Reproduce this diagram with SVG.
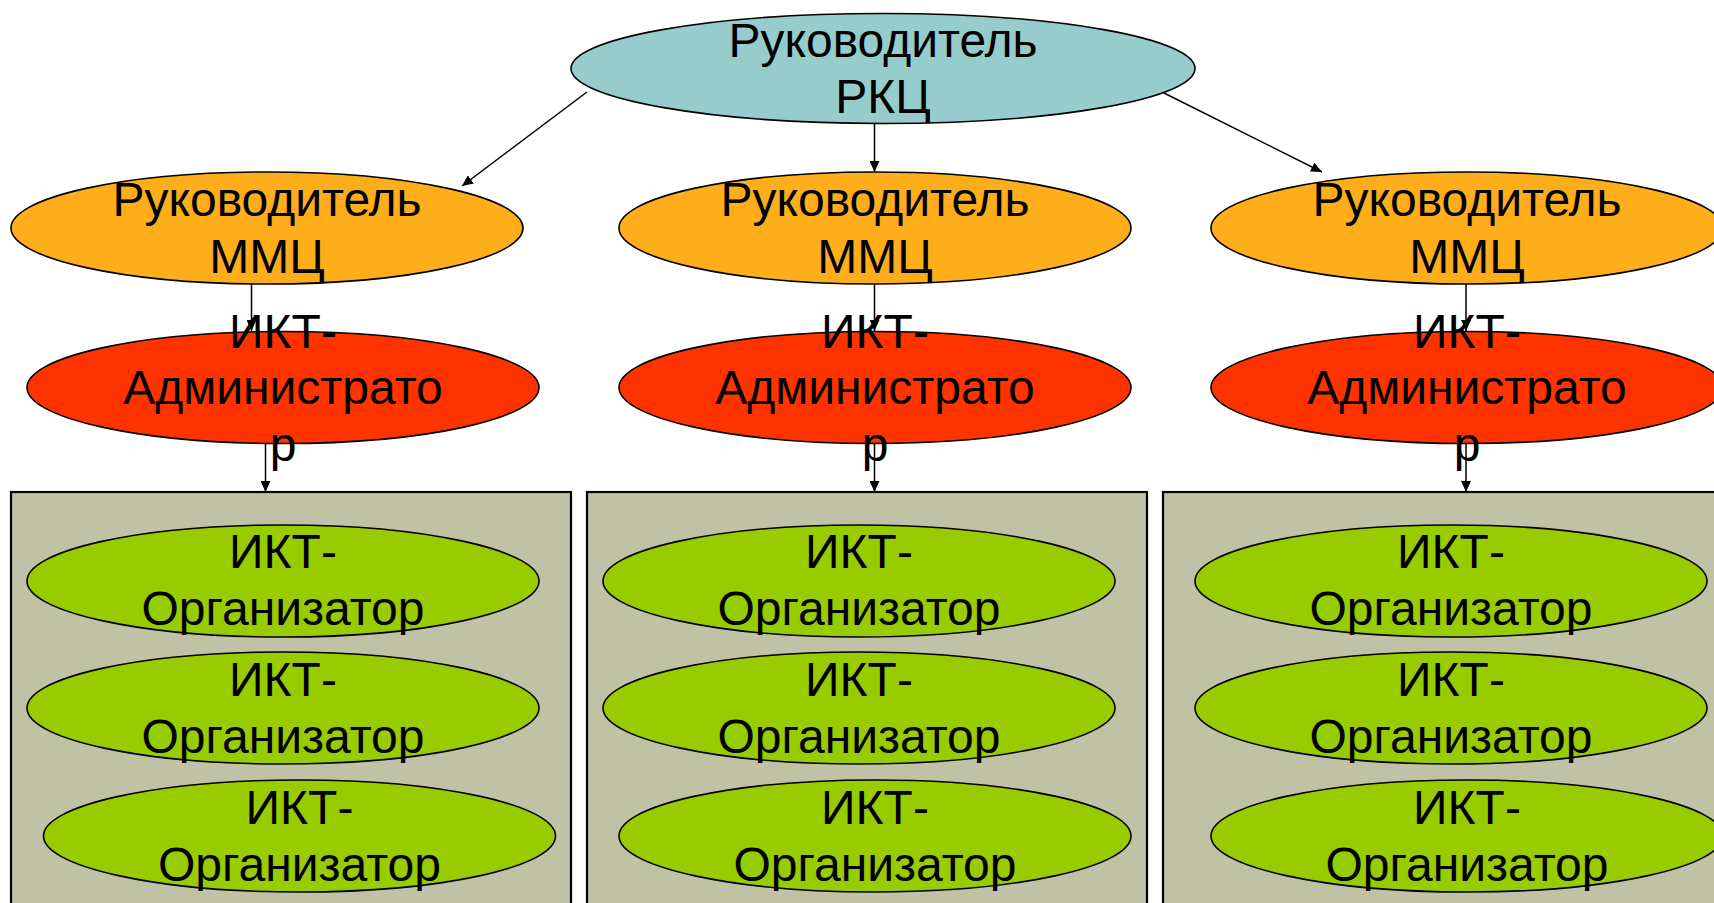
<svg xmlns="http://www.w3.org/2000/svg" width="1714" height="903" viewBox="0 0 1714 903">
<defs>
<style>
.t{font-family:"Liberation Sans",Arial,sans-serif;font-size:48px;text-anchor:middle;fill:#000}
.e{stroke:#000;stroke-width:1.6}
.top{fill:#97CCCC}
.mmc{fill:#FEAE1B}
.adm{fill:#FF3300}
.org{fill:#99CC00}
.box{fill:#BFC2A5;stroke:#000;stroke-width:2.2}
.c{stroke:#000;stroke-width:1.5;fill:none}
</style>
<marker id="ah" markerUnits="userSpaceOnUse" markerWidth="12" markerHeight="10" refX="11" refY="5" orient="auto">
<path d="M0,0 L11,5 L0,10 z" fill="#000"/>
</marker>
</defs>
<rect width="1714" height="903" fill="#fff"/>

<g id="box-left"><rect class="box" x="11" y="492" width="560" height="420"/></g>
<g id="box-mid"><rect class="box" x="587" y="492" width="560" height="420"/></g>
<g id="box-right"><rect class="box" x="1163" y="492" width="560" height="420"/></g>

<g id="connectors">
<line class="c" x1="587" y1="92" x2="462" y2="186" marker-end="url(#ah)"/>
<line class="c" x1="874.5" y1="124" x2="874.5" y2="172" marker-end="url(#ah)"/>
<line class="c" x1="1164" y1="93" x2="1322" y2="172" marker-end="url(#ah)"/>
<line class="c" x1="251.5" y1="284" x2="251.5" y2="331" marker-end="url(#ah)"/>
<line class="c" x1="874.5" y1="284" x2="874.5" y2="331" marker-end="url(#ah)"/>
<line class="c" x1="1466" y1="284" x2="1466" y2="331" marker-end="url(#ah)"/>
<line class="c" x1="265.5" y1="444" x2="265.5" y2="492" marker-end="url(#ah)"/>
<line class="c" x1="874.5" y1="444" x2="874.5" y2="492" marker-end="url(#ah)"/>
<line class="c" x1="1466" y1="444" x2="1466" y2="492" marker-end="url(#ah)"/>
</g>

<g id="rkc"><ellipse class="e top" cx="883" cy="68.5" rx="312" ry="55"/><text class="t" x="883" y="57">Руководитель</text><text class="t" x="883" y="113">РКЦ</text></g>

<g id="mmc-left"><ellipse class="e mmc" cx="267" cy="228" rx="256" ry="56"/><text class="t" x="267" y="216">Руководитель</text><text class="t" x="267" y="273">ММЦ</text></g>
<g id="mmc-mid"><ellipse class="e mmc" cx="875" cy="228" rx="256" ry="56"/><text class="t" x="875" y="216">Руководитель</text><text class="t" x="875" y="273">ММЦ</text></g>
<g id="mmc-right"><ellipse class="e mmc" cx="1467" cy="228" rx="256" ry="56"/><text class="t" x="1467" y="216">Руководитель</text><text class="t" x="1467" y="273">ММЦ</text></g>

<g id="adm-left"><ellipse class="e adm" cx="283" cy="387.5" rx="256" ry="56"/><text class="t" x="283" y="348">ИКТ-</text><text class="t" x="283" y="404">Администрато</text><text class="t" x="283" y="461">р</text></g>
<g id="adm-mid"><ellipse class="e adm" cx="875" cy="387.5" rx="256" ry="56"/><text class="t" x="875" y="348">ИКТ-</text><text class="t" x="875" y="404">Администрато</text><text class="t" x="875" y="461">р</text></g>
<g id="adm-right"><ellipse class="e adm" cx="1467" cy="387.5" rx="256" ry="56"/><text class="t" x="1467" y="348">ИКТ-</text><text class="t" x="1467" y="404">Администрато</text><text class="t" x="1467" y="461">р</text></g>

<g id="org-l1"><ellipse class="e org" cx="283" cy="581" rx="256" ry="56"/><text class="t" x="283" y="568">ИКТ-</text><text class="t" x="283" y="625">Организатор</text></g>
<g id="org-l2"><ellipse class="e org" cx="283" cy="708" rx="256" ry="56"/><text class="t" x="283" y="696">ИКТ-</text><text class="t" x="283" y="753">Организатор</text></g>
<g id="org-l3"><ellipse class="e org" cx="299.5" cy="836" rx="256" ry="56"/><text class="t" x="299.5" y="824">ИКТ-</text><text class="t" x="299.5" y="881">Организатор</text></g>

<g id="org-m1"><ellipse class="e org" cx="859" cy="581" rx="256" ry="56"/><text class="t" x="859" y="568">ИКТ-</text><text class="t" x="859" y="625">Организатор</text></g>
<g id="org-m2"><ellipse class="e org" cx="859" cy="708" rx="256" ry="56"/><text class="t" x="859" y="696">ИКТ-</text><text class="t" x="859" y="753">Организатор</text></g>
<g id="org-m3"><ellipse class="e org" cx="875" cy="836" rx="256" ry="56"/><text class="t" x="875" y="824">ИКТ-</text><text class="t" x="875" y="881">Организатор</text></g>

<g id="org-r1"><ellipse class="e org" cx="1451" cy="581" rx="256" ry="56"/><text class="t" x="1451" y="568">ИКТ-</text><text class="t" x="1451" y="625">Организатор</text></g>
<g id="org-r2"><ellipse class="e org" cx="1451" cy="708" rx="256" ry="56"/><text class="t" x="1451" y="696">ИКТ-</text><text class="t" x="1451" y="753">Организатор</text></g>
<g id="org-r3"><ellipse class="e org" cx="1467" cy="836" rx="256" ry="56"/><text class="t" x="1467" y="824">ИКТ-</text><text class="t" x="1467" y="881">Организатор</text></g>
</svg>
